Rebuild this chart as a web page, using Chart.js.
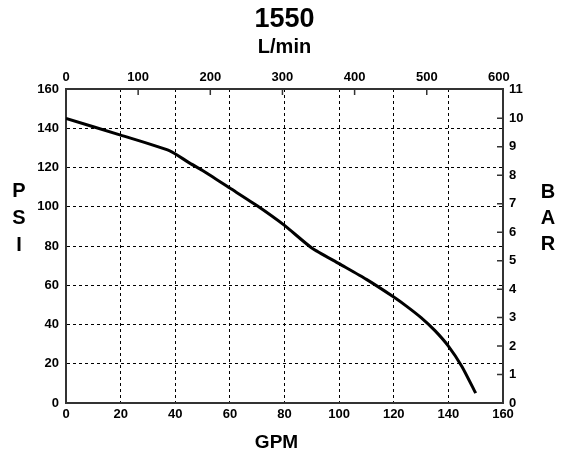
<!DOCTYPE html>
<html>
<head>
<meta charset="utf-8">
<script src="https://cdn.jsdelivr.net/npm/chart.js@4.4.2/dist/chart.umd.min.js"></script>
<style>
  html, body { margin: 0; padding: 0; background: #fff; }
  #wrap { width: 574px; height: 453px; }
</style>
</head>
<body>
<div id="wrap"><canvas id="pumpCurve" width="574" height="453"></canvas></div>
<script>
// pump performance curve: flow (GPM) vs pressure (PSI)
const gpm = [0, 20, 38, 45, 50, 60, 70, 80, 90, 100, 110, 120, 125, 130, 135, 140, 145, 150];
const psi = [145, 136.5, 128.5, 122.5, 118.5, 109.5, 100.5, 90.5, 79, 71, 63, 54, 49, 43.5, 37, 29, 18.5, 5];

// secondary axis tick labels
const lpmTicks = [0, 100, 200, 300, 400, 500, 600];
const barTicks = [0, 1, 2, 3, 4, 5, 6, 7, 8, 9, 10, 11];

const modelName = '1550';
const flowUnitMetric = 'L/min';
const xTitle = 'GPM';
const yTitleLeft = ['P', 'S', 'I'];
const yTitleRight = ['B', 'A', 'R'];

const LPM_PER_GPM = 3.78541;
const PSI_PER_BAR = 14.5038;
const X_MAX = 160;
const Y_MAX = 160;

const fontFamily = '"Liberation Sans", Arial, sans-serif';
const tickFont = { family: fontFamily, size: 13, weight: 'bold' };
const frameColor = '#333333';

const hideEdges = max => ctx => (ctx.tick.value === 0 || ctx.tick.value === max) ? 'rgba(0,0,0,0)' : '#000000';
const fixedTicks = values => scale => { scale.ticks = values.map(v => ({ value: v })); };

// inward tick marks on the top/right axes, plus the stacked side titles
const frameDecor = {
  id: 'frameDecor',
  afterDraw(chart) {
    const { ctx, chartArea: area, scales } = chart;
    ctx.save();
    ctx.strokeStyle = frameColor;
    ctx.lineWidth = 1.5;
    ctx.beginPath();
    scales.x2.ticks.forEach(t => {
      const px = scales.x2.getPixelForValue(t.value);
      if (px <= area.left + 2 || px >= area.right - 6) return;
      ctx.moveTo(px, area.top);
      ctx.lineTo(px, area.top + 6);
    });
    scales.y2.ticks.forEach(t => {
      const py = scales.y2.getPixelForValue(t.value);
      if (py >= area.bottom - 2 || py <= area.top + 6) return;
      ctx.moveTo(area.right, py);
      ctx.lineTo(area.right - 6, py);
    });
    ctx.stroke();

    ctx.fillStyle = '#000';
    ctx.textAlign = 'center';
    ctx.textBaseline = 'middle';
    ctx.font = 'bold 20px ' + fontFamily;
    const mid = (area.top + area.bottom) / 2 - 28;
    yTitleLeft.forEach((ch, i) => ctx.fillText(ch, 19, mid + (i - 1) * 27));
    yTitleRight.forEach((ch, i) => ctx.fillText(ch, 548, mid + (i - 1) * 26));

    ctx.font = 'bold 19px ' + fontFamily;
    ctx.fillText(xTitle, (area.left + area.right) / 2 - 8, 443);
    ctx.restore();
  }
};

new Chart(document.getElementById('pumpCurve'), {
  type: 'line',
  data: {
    datasets: [{
      data: gpm.map((g, i) => ({ x: g, y: psi[i] })),
      borderColor: '#000',
      borderWidth: 3,
      pointRadius: 0,
      tension: 0.2,
      fill: false,
      xAxisID: 'x',
      yAxisID: 'y'
    }]
  },
  options: {
    responsive: false,
    animation: false,
    devicePixelRatio: 1,
    layout: { padding: 0 },
    plugins: {
      legend: { display: false },
      tooltip: { enabled: false },
      title: {
        display: true,
        text: modelName,
        fullSize: false,
        color: '#000',
        font: { family: fontFamily, size: 27, weight: 'bold', lineHeight: 1.2 },
        padding: { top: 3, bottom: 0 }
      },
      subtitle: {
        display: true,
        text: flowUnitMetric,
        fullSize: false,
        color: '#000',
        font: { family: fontFamily, size: 20, weight: 'bold', lineHeight: 1.2 },
        padding: { top: 0, bottom: 0 }
      }
    },
    scales: {
      x: {
        type: 'linear',
        position: 'bottom',
        min: 0,
        max: X_MAX,
        ticks: { stepSize: 20, color: '#000', font: tickFont, padding: 4, maxRotation: 0 },
        grid: { color: hideEdges(X_MAX), lineWidth: 1, drawTicks: false },
        border: { display: true, color: frameColor, width: 2, dash: [3, 3] },
        afterFit: s => { s.height = 50; }
      },
      y: {
        type: 'linear',
        position: 'left',
        min: 0,
        max: Y_MAX,
        ticks: { stepSize: 20, color: '#000', font: tickFont, padding: 7 },
        grid: { color: hideEdges(Y_MAX), lineWidth: 1, drawTicks: false },
        border: { display: true, color: frameColor, width: 2, dash: [3, 3] },
        afterFit: s => { s.width = 66; }
      },
      x2: {
        type: 'linear',
        position: 'top',
        min: 0,
        max: X_MAX * LPM_PER_GPM,
        afterBuildTicks: fixedTicks(lpmTicks),
        ticks: { color: '#000', font: tickFont, padding: 4, maxRotation: 0, autoSkip: false },
        grid: { drawOnChartArea: false, drawTicks: false },
        border: { display: true, color: frameColor, width: 2 },
        afterFit: s => { s.height = 29.6; }
      },
      y2: {
        type: 'linear',
        position: 'right',
        min: 0,
        max: Y_MAX / PSI_PER_BAR,
        afterBuildTicks: fixedTicks(barTicks),
        ticks: { color: '#000', font: tickFont, padding: 6, autoSkip: false },
        grid: { drawOnChartArea: false, drawTicks: false },
        border: { display: true, color: frameColor, width: 2 },
        afterFit: s => { s.width = 71; }
      }
    }
  },
  plugins: [frameDecor]
});
</script>
</body>
</html>
